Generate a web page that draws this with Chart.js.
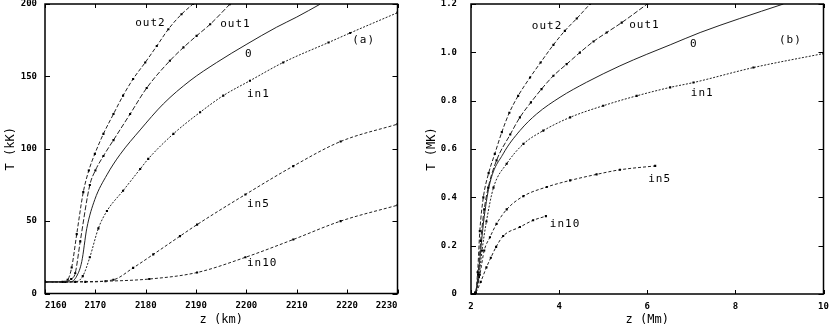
<!DOCTYPE html>
<html>
<head>
<meta charset="utf-8">
<script src="https://cdn.jsdelivr.net/npm/chart.js@4.4.0/dist/chart.umd.min.js"></script>
<style>
html, body { margin: 0; padding: 0; background: #fff; }
#wrap { position: relative; width: 830px; height: 327px; overflow: hidden; }
.panel { position: absolute; top: 0; width: 415px; height: 327px; }
</style>
</head>
<body>
<div id="wrap">
    <div class="panel" style="left:0"><canvas id="chart_a" width="415" height="327"></canvas></div>
    <div class="panel" style="left:415px"><canvas id="chart_b" width="415" height="327"></canvas></div>
</div>
<script>
// curve names, same order in both panels
var seriesNames = ['out2', 'out1', '0', 'in1', 'in5', 'in10'];

// panel (a): z [km], T [kK]
var out2A = [[2160,8],[2163.5,8],[2164.5,9.5],[2165.3,18],[2166.3,41],[2167.6,70],[2168.7,85],[2169.9,96.5],[2171.6,110.3],[2173.6,124],[2175.5,136.7],[2177.5,148.2],[2179.9,159.6],[2182.2,171],[2184.5,182.6],[2187.1,192.9],[2189.4,200]];
var out1A = [[2160,8],[2164,8],[2165.2,10],[2166,14],[2167,36],[2168.9,75],[2170,85],[2171.6,95],[2173.6,106],[2176.9,124],[2180.2,142],[2184.8,160.8],[2187.5,170],[2190.1,178],[2192.8,186],[2196.7,199.8]];
var zeroA = [[2160,8],[2165,8],[2166.3,12],[2167.3,22],[2168.3,45],[2169.9,65],[2172.3,82],[2174.9,96],[2178.9,113],[2183.5,131],[2188.8,147],[2194.1,159.6],[2200.1,172.3],[2206,184],[2210,191],[2214.6,199.8]];
var in1A  = [[2160,8],[2166,8],[2167.5,12],[2168.9,25],[2170.6,45],[2172.3,57],[2175.5,71],[2178.9,86],[2180.5,93],[2185.5,110.3],[2190.8,125.2],[2195.4,136.7],[2200.7,147],[2207.3,159.6],[2216.3,173.4],[2220.6,180],[2230,194]];
var in5A  = [[2160,8],[2168,8],[2173.6,9.5],[2177.5,17.7],[2181.5,27],[2186.8,39.6],[2190.2,47.6],[2199.8,68.4],[2209.3,88],[2218.7,105],[2230,117]];
var in10A = [[2160,8],[2172,8.5],[2180.7,10],[2190.2,14.5],[2199.8,25],[2209.3,37.3],[2218.7,50],[2230,61]];

// panel (b): z [Mm], T [MK]
var out2B = [[2,0],[2.1,0.005],[2.15,0.09],[2.2,0.26],[2.28,0.4],[2.4,0.5],[2.54,0.58],[2.7,0.67],[2.87,0.75],[3.07,0.82],[3.34,0.896],[3.58,0.958],[3.87,1.031],[4.13,1.089],[4.4,1.14],[4.7,1.2]];
var out1B = [[2,0],[2.1,0.005],[2.16,0.08],[2.22,0.22],[2.3,0.35],[2.39,0.44],[2.58,0.553],[2.89,0.66],[3.11,0.731],[3.36,0.793],[3.6,0.848],[3.87,0.903],[4.17,0.951],[4.47,0.999],[4.78,1.045],[5.08,1.082],[5.42,1.123],[6.0,1.2]];
var zeroB = [[2,0],[2.1,0.005],[2.17,0.08],[2.23,0.2],[2.3,0.32],[2.43,0.46],[2.73,0.58],[3.11,0.676],[3.49,0.745],[4.02,0.814],[4.62,0.876],[5.38,0.944],[5.99,0.992],[6.52,1.031],[7.2,1.082],[8.1,1.14],[9.09,1.2]];
var in1B  = [[2,0],[2.1,0.005],[2.18,0.07],[2.25,0.18],[2.35,0.3],[2.51,0.44],[2.81,0.539],[3.19,0.621],[3.64,0.676],[4.25,0.731],[5.0,0.779],[5.76,0.82],[6.52,0.855],[7.05,0.875],[8.41,0.937],[10,0.995]];
var in5B  = [[2,0],[2.1,0.005],[2.2,0.08],[2.3,0.18],[2.43,0.235],[2.58,0.29],[2.81,0.35],[3.19,0.405],[3.72,0.443],[4.25,0.47],[4.85,0.495],[5.38,0.514],[6.18,0.53]];
var in10B = [[2,0],[2.1,0.005],[2.22,0.05],[2.35,0.11],[2.45,0.15],[2.57,0.195],[2.73,0.24],[3.11,0.277],[3.41,0.305],[3.7,0.322]];

// axis ticks
var xTicksA = [2160, 2170, 2180, 2190, 2200, 2210, 2220, 2230];
var yTicksA = [0, 50, 100, 150, 200];
var xTicksB = [2, 4, 6, 8, 10];
var yTicksB = [0, 0.2, 0.4, 0.6, 0.8, 1.0, 1.2];

// curve label anchors (data coords), same order as seriesNames
var labelPosA = [[2177.9,186.9],[2194.8,186.2],[2199.7,165.2],[2200.1,137.5],[2200.1,61.8],[2200.1,21.2]];
var labelPosB = [[3.38,1.109],[5.59,1.113],[6.97,1.035],[6.99,0.833],[6.02,0.474],[3.79,0.289]];
var tagA = ['(a)', 2221, 175.2];
var tagB = ['(b)', 8.99, 1.052];

// line styles per curve
var dashes = [[4,2], [5,2], [], [2,1.5], [3,2], [3,2]];
var dotted = [true, true, false, true, true, true];

function makeDatasets(series) {
    return series.map(function(pts, i) {
        return {
            label: seriesNames[i],
            data: pts.map(function(p) { return {x: p[0], y: p[1]}; }),
            showLine: true,
            borderColor: '#222',
            borderWidth: 1,
            borderDash: dashes[i],
            cubicInterpolationMode: 'monotone',
            pointStyle: 'rect',
            pointRadius: dotted[i] ? 1.5 : 0,
            pointBackgroundColor: '#000',
            pointBorderWidth: 0
        };
    });
}

function framePlugin(labelPos, tag) {
    return {
        id: 'frame',
        afterDraw: function(chart) {
            var ctx = chart.ctx, a = chart.chartArea;
            var sx = chart.scales.x, sy = chart.scales.y;
            ctx.save();
            ctx.strokeStyle = '#000';
            ctx.lineWidth = 1;
            ctx.beginPath();
            sx.ticks.forEach(function(t) {
                var p = Math.round(sx.getPixelForValue(t.value)) + 0.5;
                ctx.moveTo(p, a.bottom); ctx.lineTo(p, a.bottom - 4);
                ctx.moveTo(p, a.top); ctx.lineTo(p, a.top + 4);
            });
            sy.ticks.forEach(function(t) {
                var p = Math.round(sy.getPixelForValue(t.value)) + 0.5;
                ctx.moveTo(a.left, p); ctx.lineTo(a.left + 5, p);
                ctx.moveTo(a.right, p); ctx.lineTo(a.right - 5, p);
            });
            ctx.stroke();
            ctx.lineWidth = 1.5;
            ctx.strokeRect(a.left, a.top, a.right - a.left, a.bottom - a.top);

            // curve labels
            ctx.fillStyle = '#000';
            ctx.font = '11px "DejaVu Sans Mono"';
            ctx.letterSpacing = '1px';
            ctx.textAlign = 'left';
            ctx.textBaseline = 'middle';
            labelPos.forEach(function(p, i) {
                ctx.fillText(seriesNames[i], sx.getPixelForValue(p[0]), sy.getPixelForValue(p[1]));
            });
            ctx.fillText(tag[0], sx.getPixelForValue(tag[1]), sy.getPixelForValue(tag[2]));
            ctx.restore();
        }
    };
}

var tickFont = {family: '"DejaVu Sans Mono"', size: 9, weight: 'bold'};
var titleFont = {family: '"DejaVu Sans Mono"', size: 12};

function makeChart(elId, series, xr, yr, opts) {
    var elChart = document.getElementById(elId);
    return new Chart(elChart, {
        type: 'scatter',
        data: { datasets: makeDatasets(series) },
        options: {
            responsive: false,
            animation: false,
            devicePixelRatio: 1,
            layout: { padding: { top: 3, right: opts.padRight, left: 0, bottom: 0 } },
            plugins: { legend: { display: false }, tooltip: { enabled: false } },
            scales: {
                x: {
                    type: 'linear', min: xr.min, max: xr.max,
                    grid: { display: false, drawTicks: false },
                    border: { display: false },
                    afterBuildTicks: function(s) { s.ticks = xr.ticks.map(function(v) { return {value: v}; }); },
                    ticks: { font: tickFont, color: '#000', padding: 7, maxRotation: 0, align: opts.xAlign, autoSkip: false,
                        callback: function(v) { return String(v); } },
                    title: { display: true, text: xr.title, font: titleFont, color: '#000', padding: { top: 0, bottom: 0 } },
                    afterFit: function(s) {
                        s.height = opts.xHeight;
                        s.paddingLeft = 0; s.paddingRight = 0;
                    }
                },
                y: {
                    type: 'linear', min: yr.min, max: yr.max,
                    grid: { display: false, drawTicks: false },
                    border: { display: false },
                    afterBuildTicks: function(s) { s.ticks = yr.ticks.map(function(v) { return {value: v}; }); },
                    ticks: { font: tickFont, color: '#000', padding: opts.yPad, autoSkip: false,
                        callback: yr.fmt },
                    title: { display: true, text: yr.title, font: titleFont, color: '#000', padding: { top: opts.yTitlePad, bottom: 0 } },
                    afterFit: function(s) {
                        s.width = opts.yWidth;
                        s.paddingTop = 0; s.paddingBottom = 0;
                    }
                }
            }
        },
        plugins: [framePlugin(opts.labelPos, opts.tag)]
    });
}

makeChart('chart_a', [out2A, out1A, zeroA, in1A, in5A, in10A],
    { min: 2160, max: 2230, ticks: xTicksA, title: 'z (km)' },
    { min: 0, max: 200, ticks: yTicksA, title: 'T (kK)', fmt: function(v) { return String(v); } },
    { padRight: 17.5, xHeight: 33.5, yWidth: 45, yPad: 8, yTitlePad: 4, xAlign: 'inner', labelPos: labelPosA, tag: tagA });

makeChart('chart_b', [out2B, out1B, zeroB, in1B, in5B, in10B],
    { min: 2, max: 10, ticks: xTicksB, title: 'z (Mm)' },
    { min: 0, max: 1.2, ticks: yTicksB, title: 'T (MK)', fmt: function(v) { return v === 0 ? '0' : v.toFixed(1); } },
    { padRight: 6.5, xHeight: 33, yWidth: 56, yPad: 14, yTitlePad: 10, xAlign: 'center', labelPos: labelPosB, tag: tagB });
</script>
</body>
</html>
